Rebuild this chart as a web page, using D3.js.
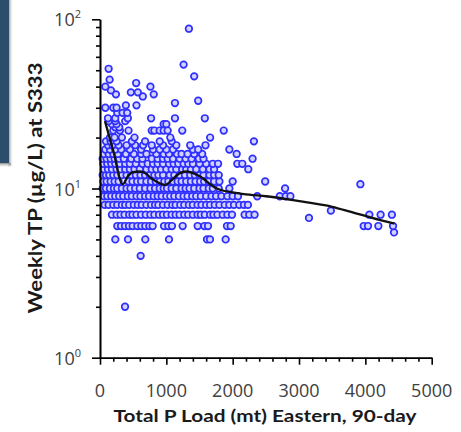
<!DOCTYPE html>
<html><head><meta charset="utf-8">
<script src="https://cdn.jsdelivr.net/npm/d3@7"></script>
<style>
html,body{margin:0;padding:0;background:#fff;}
svg{display:block;}
</style></head>
<body>
<svg id="chart" width="461" height="432"></svg>
<script>
// Weekly TP values (µg/L) and, for each, the 90-day Eastern P loads (mt) observed
const tpLevels = [2, 4, 5, 5.5, 6, 6.7, 7, 7.4, 8, 9, 10, 10.6, 11, 12, 13, 14, 15, 16, 17, 18, 19, 20, 22, 23, 24, 25, 26, 28, 30, 31, 32, 33, 35, 36, 37, 38, 40, 42, 44, 46, 51, 54, 88];
const loadsAtLevel = [
  [377],
  [613],
  [231, 422, 683, 1040, 1613, 1658, 1894],
  [4432],
  [261, 317, 377, 437, 492, 563, 623, 683, 744, 794, 965, 1030, 1085, 1246, 1472, 1573, 1628, 1914, 1970, 3975, 4040, 4196, 4417],
  [3150],
  [180, 250, 310, 370, 440, 490, 550, 620, 690, 760, 820, 890, 950, 1010, 1080, 1140, 1200, 1270, 1330, 1400, 1470, 1520, 1580, 1660, 1710, 1770, 1850, 1920, 1990, 2180, 2250, 2330, 4060, 4230, 4400],
  [3480],
  [70, 130, 200, 260, 330, 380, 440, 510, 570, 630, 700, 770, 830, 880, 950, 1020, 1090, 1140, 1210, 1270, 1340, 1400, 1470, 1530, 1600, 1660, 1730, 1800, 1880, 1950, 2020, 2100, 2170, 2230],
  [60, 110, 170, 230, 290, 350, 420, 480, 550, 610, 680, 740, 810, 870, 930, 1000, 1060, 1120, 1190, 1260, 1320, 1390, 1450, 1520, 1600, 1680, 1750, 1830, 1920, 2000, 2080, 2370, 2710, 2800, 2870],
  [40, 90, 150, 210, 260, 330, 400, 460, 530, 600, 680, 760, 830, 900, 960, 1010, 1080, 1150, 1230, 1290, 1350, 1420, 1500, 1560, 1640, 1700, 1790, 1950, 2790],
  [3925],
  [50, 100, 160, 220, 280, 430, 490, 560, 620, 700, 770, 840, 900, 970, 1030, 1100, 1170, 1230, 1300, 1370, 1440, 1510, 1570, 1640, 1720, 1800, 2000, 2490],
  [40, 90, 140, 200, 260, 330, 400, 470, 540, 610, 680, 750, 820, 880, 950, 1050, 1120, 1200, 1280, 1360, 1430, 1500, 1560, 1650, 1720, 1790],
  [60, 120, 180, 250, 310, 380, 450, 520, 600, 700, 780, 850, 920, 1000, 1080, 1150, 1240, 1300, 1370, 1450, 1550, 1650, 1720, 2235],
  [50, 110, 170, 230, 300, 380, 450, 540, 640, 720, 800, 870, 950, 1040, 1110, 1180, 1260, 1330, 1400, 1500, 1600, 1700, 1780, 2070, 2145],
  [40, 100, 160, 220, 290, 360, 470, 560, 640, 780, 870, 950, 1020, 1100, 1200, 1290, 1380, 1490, 1560, 2300],
  [60, 130, 200, 270, 390, 510, 620, 700, 850, 960, 1040, 1160, 1230, 1320, 1420, 1540, 2060],
  [80, 150, 230, 320, 450, 620, 800, 900, 1000, 1100, 1400, 1480, 1950],
  [120, 190, 280, 400, 530, 650, 780, 950, 1150, 1360, 1590],
  [90, 160, 250, 480, 680, 900, 1080, 2320],
  [150, 220, 330, 520, 1060, 1660],
  [200, 300, 430, 780, 820, 900, 960, 1020, 1240, 1865],
  [230, 290],
  [180, 250, 960, 1000],
  [130, 230, 380],
  [120, 230, 420, 770, 1130, 1580],
  [260, 340, 410],
  [80, 200, 250],
  [390, 550],
  [1130],
  [1480],
  [645],
  [240, 810],
  [465, 570],
  [165],
  [80, 760],
  [545],
  [145],
  [1420],
  [130],
  [1260],
  [1340]
];
// LOESS-style smooth line (load, TP)
const smoothLoad = [75, 200, 341, 420, 500, 600, 700, 770, 850, 980, 1100, 1200, 1300, 1450, 1550, 1660, 1760, 1860, 2000, 2250, 2500, 2860, 3100, 3500, 3770, 4100, 4440];
const smoothTP   = [25, 16.7, 10.6, 11.8, 12.5, 12.6, 12.2, 11.5, 11.0, 10.5, 11.4, 12.3, 12.6, 12.1, 11.5, 10.6, 10.0, 9.7, 9.5, 9.2, 9.0, 8.6, 8.3, 7.8, 7.3, 6.7, 6.2];
// Axis ticks
const xMajorTicks = [0, 1000, 2000, 3000, 4000, 5000];
const xMinorTicks = [200,400,600,800,1200,1400,1600,1800,2200,2400,2600,2800,3200,3400,3600,3800,4200,4400,4600,4800];
const yMajorTicks = [1, 10, 100];
const yMajorExp = ["0", "1", "2"];
const yMinorTicks = [2,3,4,5,6,7,8,9,20,30,40,50,60,70,80,90];
const xTitle = "Total P Load (mt) Eastern, 90-day";
const yTitle = "Weekly TP (µg/L) at S333";

const svg = d3.select("#chart");
const x = d3.scaleLinear().domain([0, 5000]).range([100, 431.7]);
const y = d3.scaleLog().domain([1, 100]).range([357.7, 19.3]);

// decorative slide panel at left with shadow
const defs = svg.append("defs");
const grad = defs.append("linearGradient").attr("id","shadow").attr("x1","0").attr("x2","1");
grad.append("stop").attr("offset","0").attr("stop-color","#8a8a8a");
grad.append("stop").attr("offset","1").attr("stop-color","#ffffff").attr("stop-opacity",0);
const gradV = defs.append("linearGradient").attr("id","shadowV").attr("x1","0").attr("x2","0").attr("y1","0").attr("y2","1");
gradV.append("stop").attr("offset","0").attr("stop-color","#8a8a8a");
gradV.append("stop").attr("offset","1").attr("stop-color","#ffffff").attr("stop-opacity",0);
svg.append("rect").attr("x",8.5).attr("y",0).attr("width",5).attr("height",166).attr("fill","url(#shadow)");
svg.append("rect").attr("x",0).attr("y",163).attr("width",11).attr("height",5).attr("fill","url(#shadowV)");
svg.append("rect").attr("x",0).attr("y",0).attr("width",9).attr("height",163).attr("fill","#2d4d6c");

// points
const pts = [];
tpLevels.forEach((v, i) => loadsAtLevel[i].forEach(l => pts.push([l, v])));
svg.append("g").selectAll("circle").data(pts).join("circle")
  .attr("cx", d => x(d[0])).attr("cy", d => y(d[1])).attr("r", 3.3)
  .attr("fill", "#d2d2ff").attr("stroke", "#2e2eff").attr("stroke-width", 1.7);

// smooth line
const line = d3.line().x(d => x(d[0])).y(d => y(d[1])).curve(d3.curveMonotoneX);
svg.append("path").datum(smoothLoad.map((l, i) => [l, smoothTP[i]]))
  .attr("d", line).attr("fill", "none").attr("stroke", "#111").attr("stroke-width", 2.3);

// axes
const axStyle = g => { g.selectAll("path,line").attr("stroke","#000").attr("stroke-width",1.6); g.selectAll("text").remove(); };
svg.append("g").attr("transform","translate(100,0)")
  .call(d3.axisLeft(y).tickValues(yMinorTicks).tickSize(4).tickSizeOuter(0)).call(axStyle);
svg.append("g").attr("transform","translate(100,0)")
  .call(d3.axisLeft(y).tickValues(yMajorTicks).tickSize(8).tickSizeOuter(0)).call(axStyle);
svg.append("g").attr("transform","translate(0,357.7)")
  .call(d3.axisBottom(x).tickValues(xMinorTicks).tickSize(4).tickSizeOuter(0)).call(axStyle);
svg.append("g").attr("transform","translate(0,357.7)")
  .call(d3.axisBottom(x).tickValues(xMajorTicks).tickSize(7).tickSizeOuter(0)).call(axStyle);

const font = "'Open Sans', sans-serif";
// x tick labels
svg.append("g").selectAll("text").data(xMajorTicks).join("text")
  .attr("x", d => x(d)).attr("y", 396.5).attr("text-anchor","middle")
  .attr("font-family", font).attr("font-size", 18).attr("fill","#404040")
  .text(d => d);
// y tick labels 10^n
const yl = svg.append("g").selectAll("text").data(yMajorTicks).join("text")
  .attr("x", 81).attr("y", d => y(d) + 7).attr("text-anchor","end")
  .attr("font-family", font).attr("font-size", 18).attr("fill","#404040");
yl.append("tspan").text("10");
yl.append("tspan").attr("dy", -8).attr("font-size", 11).text((d, i) => yMajorExp[i]);

// titles
svg.append("text").attr("x", 265).attr("y", 422).attr("text-anchor","middle")
  .attr("font-family","Lato, sans-serif").attr("font-weight","bold").attr("font-size",17.5)
  .attr("fill","#1a1a1a").attr("textLength",303).attr("lengthAdjust","spacingAndGlyphs").text(xTitle);
svg.append("text").attr("transform","translate(41.5,188) rotate(-90)").attr("text-anchor","middle")
  .attr("font-family","Lato, sans-serif").attr("font-weight","bold").attr("font-size",18.5)
  .attr("fill","#1a1a1a").attr("textLength",251).attr("lengthAdjust","spacingAndGlyphs").text(yTitle);
</script>
</body></html>
